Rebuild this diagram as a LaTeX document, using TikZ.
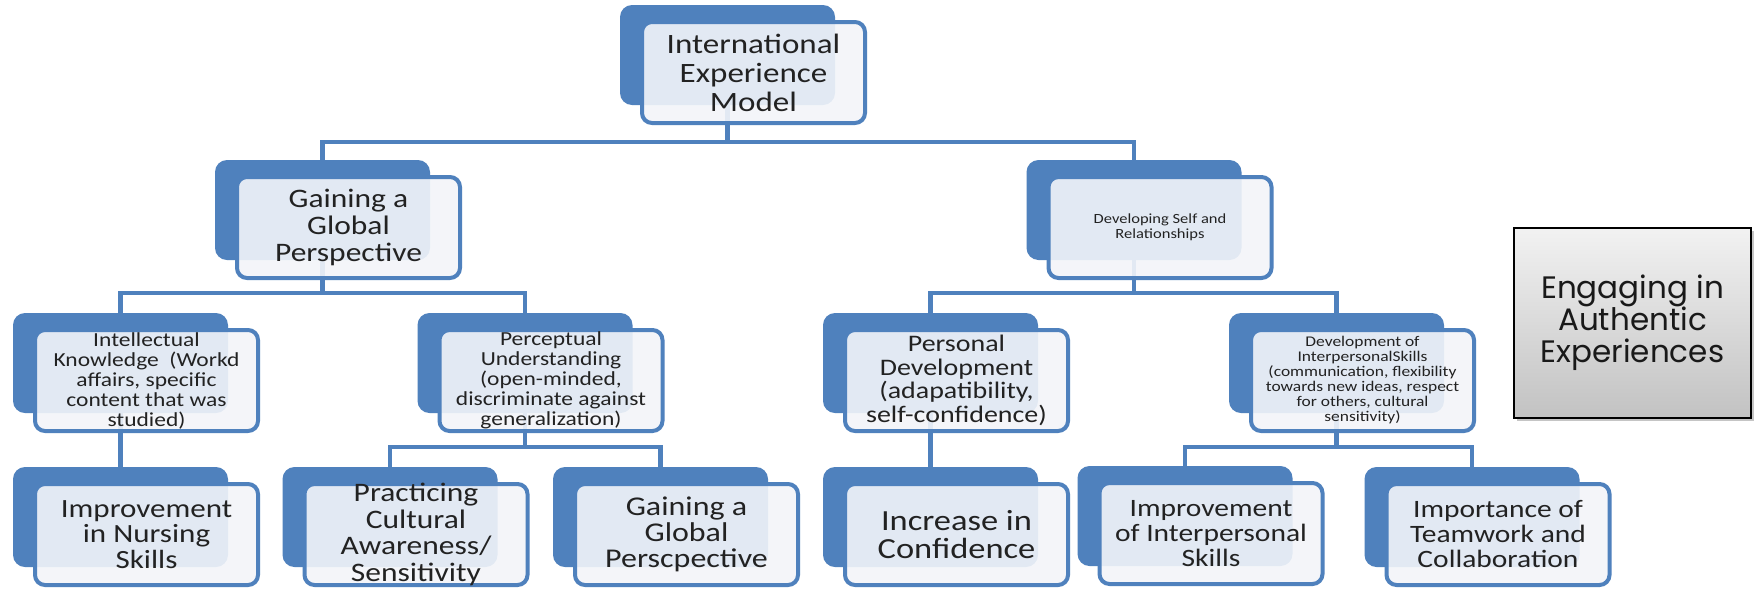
\documentclass[tikz,border=0pt]{standalone}
\usepackage{fontspec}
\setmainfont{Carlito}[FakeStretch=1.18]
\newfontfamily\gothic{Poppins}
\usetikzlibrary{backgrounds,shadows,calc}
\definecolor{accent}{HTML}{4F81BD}
\definecolor{frontc}{HTML}{F3F5F9}
\definecolor{txtc}{HTML}{222222}
\definecolor{eTop}{HTML}{F2F2F2}
\definecolor{eBot}{HTML}{C2C2C2}
\tikzset{
  darkbox/.style={fill=accent, rounded corners=12pt, minimum width=215pt, minimum height=100pt, inner sep=0pt},
  frontbox/.style={draw=accent, line width=4pt, fill=frontc, fill opacity=0.9, rounded corners=10pt, minimum width=223pt, minimum height=101pt, inner sep=0pt},
  boxtext/.style={align=center, text=txtc, inner sep=0pt},
  conn/.style={draw=accent, line width=4.5pt},
  engbox/.style={draw=black, line width=2pt, top color=eTop, bottom color=eBot, minimum width=237pt, minimum height=190pt, inner sep=0pt, align=center, font=\gothic\fontsize{31}{32}\selectfont, text=black!90, drop shadow={shadow xshift=3pt, shadow yshift=-3pt, opacity=0.45}}
}
\newcommand{\smbox}[6]{%
  \node[darkbox] (#1b) at (#2,#3) {};
  \node[frontbox] (#1f) at ($(#1b.center)+(26,17.5)$) {};
  \node[boxtext, font=\fontsize{#4}{#5}\selectfont] (#1) at (#1f.center) {#6};
}
\begin{document}
\begin{tikzpicture}[x=1pt,y=-1pt]
\useasboundingbox (0,0) rectangle (1754,590);
% level 1
\smbox{top}{727.5}{55}{28}{29}{International\\Experience\\Model}
% level 2
\smbox{gl}{322.5}{210}{26.7}{27}{Gaining a\\Global\\Perspective}
\smbox{ds}{1134}{210}{14}{15.5}{Developing Self and\\Relationships}
% level 3
\smbox{ik}{120.5}{363}{19.9}{20}{Intellectual\\Knowledge\ \ (Workd\\affairs, specific\\content that was\\studied)}
\smbox{pu}{525}{363}{19.9}{20}{Perceptual\\Understanding\\(open-minded,\\discriminate against\\generalization)}
\smbox{pd}{930.5}{363}{23.7}{23.5}{Personal\\Development\\(adapatibility,\\self-confidence)}
\smbox{dis}{1336.5}{363}{14.8}{15}{Development of\\InterpersonalSkills\\(communication, flexibility\\towards new ideas, respect\\for others, cultural\\sensitivity)}
% level 4
\smbox{ns}{120.5}{517}{26.3}{25.5}{Improvement\\in Nursing\\Skills}
\smbox{pc}{390}{517}{26.7}{26.5}{Practicing\\Cultural\\Awareness/\\Sensitivity}
\smbox{gg}{660.5}{517}{27.1}{26}{Gaining a\\Global\\Perscpective}
\smbox{ic}{930.5}{517}{29.2}{28}{Increase in\\Confidence}
\smbox{ii}{1185}{516}{25}{25}{Improvement\\of Interpersonal\\Skills}
\smbox{tw}{1472}{517}{25}{25}{Importance of\\Teamwork and\\Collaboration}
% side box
\node[engbox] (eng) at (1632.5,323) {Engaging in\\Authentic\\Experiences};
% connectors
\begin{scope}[on background layer]
  \fill[white] (0,0) rectangle (1754,590);
  \coordinate (j1) at ($(topb.center)+(0,87)$);
  \coordinate (j2) at ($(glb.center)+(0,83)$);
  \coordinate (j3) at ($(dsb.center)+(0,83)$);
  \coordinate (j4) at ($(pub.center)+(0,84)$);
  \coordinate (j5) at ($(disb.center)+(0,84)$);
  \draw[conn] (topb.center) -- (j1);
  \draw[conn] (glb.center) |- (j1) -| (dsb.center);
  \draw[conn] (glb.center) -- (j2);
  \draw[conn] (ikb.center) |- (j2) -| (pub.center);
  \draw[conn] (dsb.center) -- (j3);
  \draw[conn] (pdb.center) |- (j3) -| (disb.center);
  \draw[conn] (ikb.center) -- (nsb.center);
  \draw[conn] (pub.center) -- (j4);
  \draw[conn] (pcb.center) |- (j4) -| (ggb.center);
  \draw[conn] (pdb.center) -- (icb.center);
  \draw[conn] (disb.center) -- (j5);
  \draw[conn] (iib.center) |- (j5) -| (twb.center);
\end{scope}
\end{tikzpicture}
\end{document}
